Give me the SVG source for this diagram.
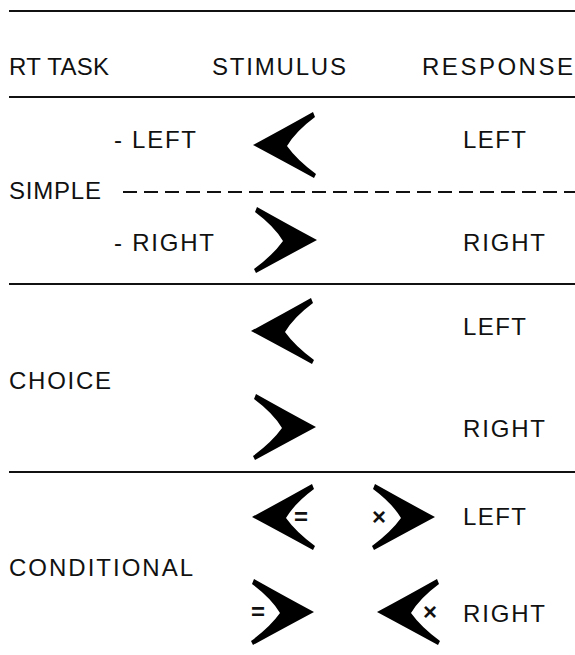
<svg xmlns="http://www.w3.org/2000/svg" xmlns:xlink="http://www.w3.org/1999/xlink" width="575" height="655" viewBox="0 0 575 655">
  <style>
    .t { font-family: "Liberation Sans", Arial, sans-serif; font-size: 24px; fill: #111; }
    .s { font-family: "Liberation Sans", Arial, sans-serif; font-size: 24px; font-weight: bold; fill: #111; }
    .rule { stroke: #111; stroke-width: 2; fill: none; }
    .dash { stroke: #111; stroke-width: 2; stroke-dasharray: 14 7; fill: none; }
    .arrow { fill: #000; }
  </style>
  <defs>
    <!-- chevron pointing left, tip at the origin -->
    <path id="chev" class="arrow" d="M0,0 Q28,-15 60,-33 L62,-28 Q43,-14 34,1 Q44,15 63,29 L61,33 Q28,15 0,0 Z"/>
  </defs>

  <g id="rules">
    <line class="rule" x1="9" y1="11" x2="575" y2="11"/>
    <line class="rule" x1="9" y1="97" x2="575" y2="97"/>
    <line class="dash" x1="123" y1="192" x2="575" y2="192"/>
    <line class="rule" x1="9" y1="284" x2="575" y2="284"/>
    <line class="rule" x1="9" y1="472" x2="575" y2="472"/>
  </g>

  <g id="header">
    <text class="t" x="9" y="75" textLength="100" lengthAdjust="spacing">RT TASK</text>
    <text class="t" x="212" y="75" textLength="134" lengthAdjust="spacing">STIMULUS</text>
    <text class="t" x="422" y="75" textLength="151" lengthAdjust="spacing">RESPONSE</text>
  </g>

  <g id="simple">
    <text class="t" x="9" y="199" textLength="92" lengthAdjust="spacing">SIMPLE</text>
    <text class="t" x="114" y="148" textLength="82" lengthAdjust="spacing">- LEFT</text>
    <use xlink:href="#chev" transform="translate(253,145)"/>
    <text class="t" x="463" y="148" textLength="63" lengthAdjust="spacing">LEFT</text>
    <text class="t" x="114" y="251" textLength="100" lengthAdjust="spacing">- RIGHT</text>
    <use xlink:href="#chev" transform="translate(317,240) scale(-1,1)"/>
    <text class="t" x="463" y="251" textLength="82" lengthAdjust="spacing">RIGHT</text>
  </g>

  <g id="choice">
    <text class="t" x="9" y="389" textLength="102" lengthAdjust="spacing">CHOICE</text>
    <use xlink:href="#chev" transform="translate(251,331)"/>
    <text class="t" x="463" y="335" textLength="63" lengthAdjust="spacing">LEFT</text>
    <use xlink:href="#chev" transform="translate(316,427) scale(-1,1)"/>
    <text class="t" x="463" y="437" textLength="82" lengthAdjust="spacing">RIGHT</text>
  </g>

  <g id="conditional">
    <text class="t" x="9" y="576" textLength="184" lengthAdjust="spacing">CONDITIONAL</text>
    <use xlink:href="#chev" transform="translate(252,517)"/>
    <text class="s" x="294" y="525">=</text>
    <text class="s" x="372" y="525">×</text>
    <use xlink:href="#chev" transform="translate(435,517) scale(-1,1)"/>
    <text class="t" x="463" y="525" textLength="63" lengthAdjust="spacing">LEFT</text>
    <text class="s" x="251" y="620">=</text>
    <use xlink:href="#chev" transform="translate(314,612) scale(-1,1)"/>
    <use xlink:href="#chev" transform="translate(377,612)"/>
    <text class="s" x="423" y="620">×</text>
    <text class="t" x="463" y="622" textLength="82" lengthAdjust="spacing">RIGHT</text>
  </g>
</svg>
